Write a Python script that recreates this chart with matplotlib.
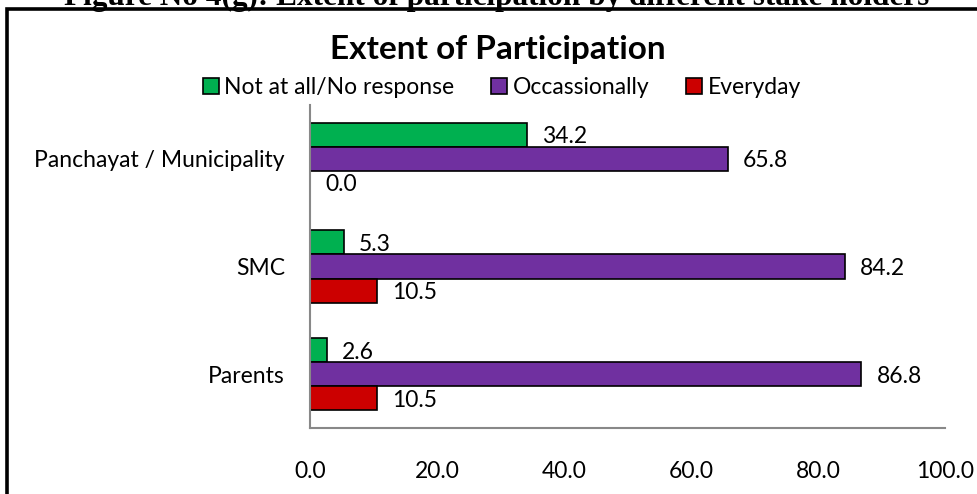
import numpy as np
import matplotlib.pyplot as plt
from matplotlib.patches import Rectangle

# Extent of participation by stake holder (percent)
stakeholders = ['Parents', 'SMC', 'Panchayat / Municipality']
not_at_all = [2.6, 5.3, 34.2]
occasionally = [86.8, 84.2, 65.8]
everyday = [10.5, 10.5, 0.0]
series_names = ['Not at all/No response', 'Occassionally', 'Everyday']
colors = ['#00B050', '#7030A0', '#CC0000']

plt.rcParams['font.family'] = ['Lato', 'DejaVu Sans']
fs = 16.5

fig = plt.figure(figsize=(9.78, 4.94), dpi=100)
ax = fig.add_axes([310 / 978, 1 - 428 / 494, 635 / 978, 323 / 494])

y = np.arange(len(stakeholders))
h = 0.223
offsets = [h, 0, -h]
for vals, off, col in zip([not_at_all, occasionally, everyday], offsets, colors):
    ax.barh(y + off, vals, height=h, color=col, edgecolor='black', linewidth=1.2)
    for yi, v in zip(y, vals):
        ax.text(v + 2.4, yi + off - 0.02, f'{v:.1f}', va='center', ha='left', fontsize=fs)

ax.set_xlim(0, 100)
ax.set_ylim(-0.5, 2.5)
ax.set_yticks(y)
ax.set_yticklabels(stakeholders, fontsize=fs)
ax.set_xticks(np.arange(0, 101, 20))
ax.set_xticklabels([f'{t:.1f}' for t in range(0, 101, 20)], fontsize=fs)
ax.tick_params(axis='both', length=0)
ax.tick_params(axis='x', pad=24)
ax.tick_params(axis='y', pad=18)
for side in ['top', 'right']:
    ax.spines[side].set_visible(False)
for side in ['left', 'bottom']:
    ax.spines[side].set_color('#888888')
    ax.spines[side].set_linewidth(1.5)

fig.text(498 / 978, 1 - 50 / 494, 'Extent of Participation', ha='center', va='center',
         fontsize=24, fontweight='bold')

handles = [Rectangle((0, 0), 1, 1, facecolor=c, edgecolor='black', linewidth=1.2) for c in colors]
fig.legend(handles, series_names, loc='center', bbox_to_anchor=(502 / 978, 1 - 88 / 494),
           ncol=3, frameon=False, fontsize=fs, handlelength=0.7, handleheight=0.7,
           handletextpad=0.25, columnspacing=1.6, borderpad=0)

# caption above the chart box, only its lower edge is on the page
fig.text(497 / 978, 1 - 5.5 / 494, 'Figure No 4(g): Extent of participation by different stake holders',
         ha='center', va='baseline', fontsize=22.5, fontweight='bold', family='Liberation Serif')

# black frame around the chart (right and bottom sides run off the page)
fig.add_artist(Rectangle((7 / 978, -0.05), 1.0, 1.05 - 8.5 / 494, transform=fig.transFigure,
                         fill=False, edgecolor='black', linewidth=2.6))

fig.savefig('out.png', dpi=100)
